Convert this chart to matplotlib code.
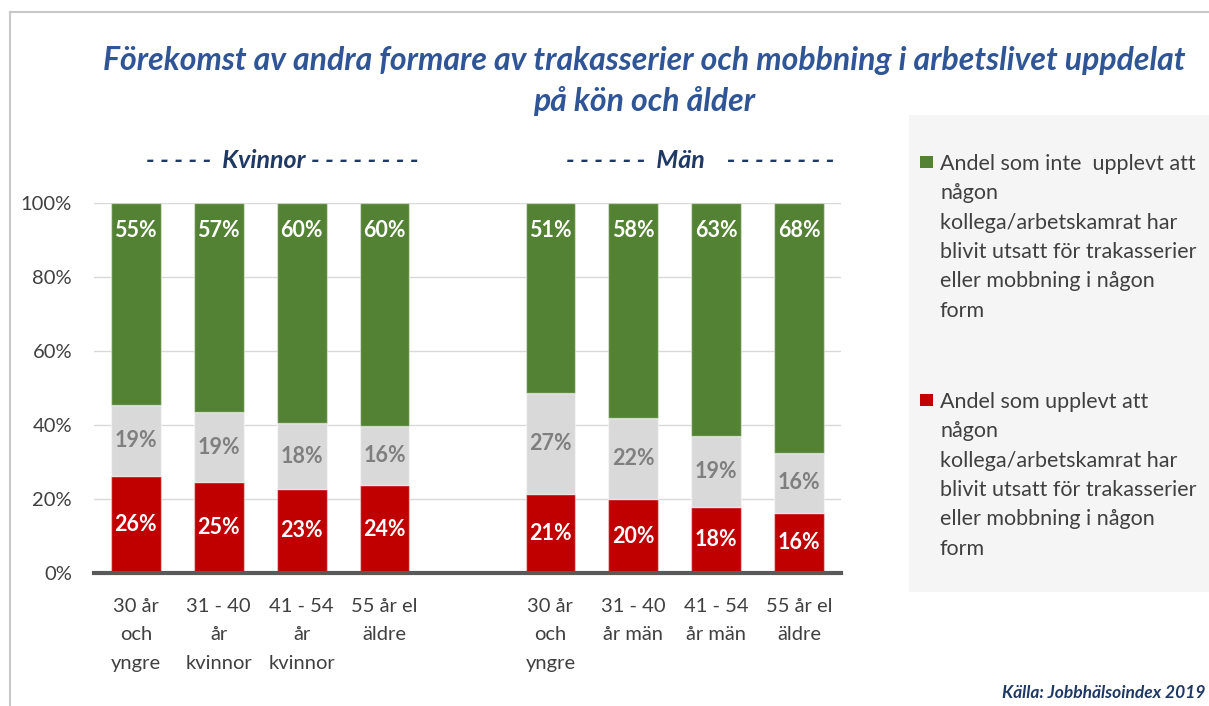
import matplotlib
matplotlib.use("Agg")
import matplotlib.pyplot as plt
from matplotlib.patches import Rectangle
from matplotlib.lines import Line2D

plt.rcParams['font.family'] = ['Lato', 'DejaVu Sans']

# ---------------------------------------------------------------------
#  Data
# ---------------------------------------------------------------------
positions = [0, 1, 2, 3, 5, 6, 7, 8]   # plats 4 är luckan mellan grupperna
tick_labels = ['30 år\noch\nyngre', '31 - 40\når\nkvinnor', '41 - 54\når\nkvinnor', '55 år el\näldre',
               '30 år\noch\nyngre', '31 - 40\når män', '41 - 54\når män', '55 år el\näldre']
red_vals = [26.1, 24.6, 22.6, 23.6, 21.2, 19.8, 17.7, 16.2]
gray_vals = [19.3, 18.7, 17.8, 16.1, 27.4, 22.1, 19.2, 16.1]
green_vals = [54.6, 56.7, 59.6, 60.3, 51.4, 58.1, 63.1, 67.7]

legend_labels = ['Andel som inte  upplevt att\nnågon\nkollega/arbetskamrat har\nblivit utsatt för trakasserier\neller mobbning i någon\nform',
                 'Andel som upplevt att\nnågon\nkollega/arbetskamrat har\nblivit utsatt för trakasserier\neller mobbning i någon\nform']

group_labels = ['- - - - -  Kvinnor - - - - - - - -', '- - - - - -  Män    - - - - - - - -']

title = 'Förekomst av andra formare av trakasserier och mobbning i arbetslivet uppdelat\npå kön och ålder'
source = 'Källa: Jobbhälsoindex 2019'

c_green = '#548235'
c_gray = '#D9D9D9'
c_red = '#C00000'
c_text = '#404040'

# ---------------------------------------------------------------------
#  Figur
# ---------------------------------------------------------------------
W, H = 1209, 706
fig = plt.figure(figsize=(W / 100, H / 100), dpi=100)
ax = fig.add_axes([94.3 / W, 1 - 572.7 / H, (840.7 - 94.3) / W, (572.7 - 202.7) / H])

bottom_gray = [r for r in red_vals]
bottom_green = [r + g for r, g in zip(red_vals, gray_vals)]

ec = (1, 1, 1, 0.45)
ax.bar(positions, red_vals, width=0.6, color=c_red, edgecolor=ec, linewidth=1, zorder=3)
ax.bar(positions, gray_vals, width=0.6, bottom=bottom_gray, color=c_gray, edgecolor=ec, linewidth=1, zorder=3)
ax.bar(positions, green_vals, width=0.6, bottom=bottom_green, color=c_green, edgecolor=ec, linewidth=1, zorder=3)

# etiketter
for x, r, g, gr, bg in zip(positions, red_vals, gray_vals, green_vals, bottom_green):
    ax.text(x, r / 2, f'{r:.0f}%', ha='center', va='center', color='white',
            fontsize=15.5, fontweight='bold', zorder=4)
    ax.text(x, r + g / 2, f'{g:.0f}%', ha='center', va='center', color='#7F7F7F',
            fontsize=15.5, fontweight='bold', zorder=4)
    ax.annotate(f'{gr:.0f}%', xy=(x, bg + gr), xytext=(0, -28), textcoords='offset pixels',
                ha='center', va='center', color='white', fontsize=15.5, fontweight='bold', zorder=4)

ax.set_xlim(-0.5, 8.5)
ax.set_ylim(0, 100)
ax.set_yticks([0, 20, 40, 60, 80, 100])
ax.set_yticklabels([f'{v}%' for v in [0, 20, 40, 60, 80, 100]])
ax.set_xticks(positions)
ax.set_xticklabels(tick_labels, linespacing=1.83, va='top')
ax.tick_params(axis='both', length=0, labelsize=14.5, labelcolor=c_text)
ax.tick_params(axis='y', pad=16)
ax.tick_params(axis='x', pad=18)

ax.grid(axis='y', color='#D9D9D9', linewidth=1, zorder=0)
for s in ['top', 'right', 'left']:
    ax.spines[s].set_visible(False)
ax.spines['bottom'].set_color('#595959')
ax.spines['bottom'].set_linewidth(3)
ax.spines['bottom'].set_zorder(5)

# titel och grupprubriker
fig.text(644 / W, 1 - 81 / H, title, ha='center', va='center', fontsize=23, fontweight='bold',
         fontstyle='italic', color='#2F5597', linespacing=1.42)
fig.text(282 / W, 1 - 160 / H, group_labels[0], ha='center', va='center', fontsize=18,
         fontweight='bold', fontstyle='italic', color='#1F3864')
fig.text(700 / W, 1 - 160 / H, group_labels[1], ha='center', va='center', fontsize=18,
         fontweight='bold', fontstyle='italic', color='#1F3864')

# legend
fig.patches.append(Rectangle((909 / W, 1 - 592 / H), (W - 909) / W, (592 - 115) / H,
                             transform=fig.transFigure, facecolor='#F5F5F5', edgecolor='none', zorder=0))
for lab, col, ytop in zip(legend_labels, [c_green, c_red], [162, 400]):
    fig.patches.append(Rectangle((920 / W, 1 - (ytop + 6) / H), 13 / W, 12 / H,
                                 transform=fig.transFigure, facecolor=col, edgecolor='none', zorder=1))
    fig.text(940 / W, 1 - (ytop - 8) / H, lab, ha='left', va='top', fontsize=15.5, color=c_text,
             linespacing=1.585)

fig.text(1205 / W, 1 - 693 / H, source, ha='right', va='center', fontsize=12.5, fontweight='bold',
         fontstyle='italic', color='#1F3864')

# ram
fig.lines.append(Line2D([10 / W, 1], [1 - 12 / H, 1 - 12 / H], transform=fig.transFigure, color='#C8C8C8', lw=1.5))
fig.lines.append(Line2D([10 / W, 10 / W], [1 - 12 / H, 0], transform=fig.transFigure, color='#C8C8C8', lw=1.5))

plt.savefig('out.png', dpi=100)
